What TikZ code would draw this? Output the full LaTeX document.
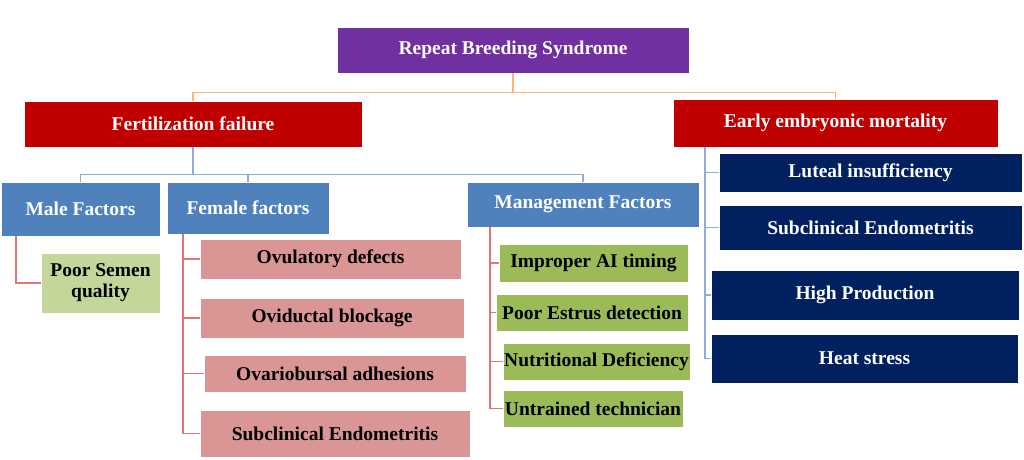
\documentclass[tikz,border=0pt]{standalone}
\usepackage{fontspec}
\setmainfont{Liberation Serif}
\usepackage{tikz}
\usetikzlibrary{positioning,calc}

\definecolor{rbpurple}{HTML}{7030A0}
\definecolor{rbred}{HTML}{C00000}
\definecolor{rbblue}{HTML}{4F81BD}
\definecolor{rbnavy}{HTML}{002060}
\definecolor{rbpink}{HTML}{DA9694}
\definecolor{rblgreen}{HTML}{C4D79B}
\definecolor{rbgreen}{HTML}{9BBB59}
\definecolor{lnorange}{HTML}{FAB57E}
\definecolor{lnblue}{HTML}{8DADD8}
\definecolor{lnred}{HTML}{DC7775}

\begin{document}
\begin{tikzpicture}[x=1pt,y=-1pt,
  box/.style={draw=white,line width=0.8pt,inner sep=0pt,align=center,
    font=\fontsize{19.5}{21}\selectfont\bfseries},
  wbox/.style={box,text=white},
  kbox/.style={box,text=black},
  link/.style={line width=1.4pt}]
\useasboundingbox (0,0) rectangle (1024,459);
% ---- top levels ----
\node[wbox,fill=rbpurple,minimum width=352,minimum height=46] (rbs) at (513,50) {Repeat Breeding Syndrome};
\node[wbox,fill=rbred,minimum width=338,minimum height=46] (fert) at (193,124) {Fertilization failure};
\node[wbox,fill=rbred,minimum width=325,minimum height=48] (eem) at (835.5,123) {Early embryonic mortality};
\draw[link,lnorange] (rbs.south) -- ++(0,19) -| (fert.north);
\draw[link,lnorange] (rbs.south) -- ++(0,19) -| (eem.north);
% ---- fertilization failure branches ----
\node[wbox,fill=rbblue,minimum width=159,minimum height=54] (male) at (80.5,209) {Male Factors};
\node[wbox,fill=rbblue,minimum width=162,minimum height=52] (female) at (248,208) {Female factors};
\node[wbox,fill=rbblue,minimum width=232,minimum height=45] (mgmt) at (583,204.5) {Management Factors};
\draw[link,lnblue] (fert.south) -- ++(0,27) -| (male.north);
\draw[link,lnblue] (fert.south) -- ++(0,27) -| (female.north);
\draw[link,lnblue] (fert.south) -- ++(0,27) -| (mgmt.north);
% ---- male ----
\node[kbox,fill=rblgreen,minimum width=119,minimum height=60] (semen) at (100.5,283) {Poor Semen\\quality};
\coordinate (mbar) at (16,0);
\draw[link,lnred] (male.south -| mbar) |- (semen.west);
% ---- female ----
\node[kbox,fill=rbpink,minimum width=261,minimum height=40] (ovul) at (330.5,259) {Ovulatory defects};
\node[kbox,fill=rbpink,minimum width=264,minimum height=40] (ovid) at (332,318) {Oviductal blockage};
\node[kbox,fill=rbpink,minimum width=262,minimum height=37] (ovar) at (335,373.5) {Ovariobursal adhesions};
\node[kbox,fill=rbpink,minimum width=270,minimum height=47] (subf) at (335,433.5) {Subclinical Endometritis};
\coordinate (fbar) at (183,0);
\foreach \n in {ovul,ovid,ovar,subf}
  \draw[link,lnred] (female.south -| fbar) |- (\n.west);
% ---- management ----
\node[kbox,fill=rbgreen,minimum width=189,minimum height=38] (aitime) at (593.5,263) {Improper AI timing};
\node[kbox,fill=rbgreen,minimum width=192,minimum height=37] (estrus) at (592,312.5) {Poor Estrus detection};
\node[kbox,fill=rbgreen,minimum width=187,minimum height=37] (nutri) at (596.5,361.5) {Nutritional Deficiency};
\node[kbox,fill=rbgreen,minimum width=180,minimum height=37] (tech) at (593,408.5) {Untrained technician};
\coordinate (gbar) at (490,0);
\foreach \n in {aitime,estrus,nutri,tech}
  \draw[link,lnred] (mgmt.south -| gbar) |- (\n.west);
% ---- early embryonic mortality ----
\node[wbox,fill=rbnavy,minimum width=303,minimum height=39] (luteal) at (870.5,172.5) {Luteal insufficiency};
\node[wbox,fill=rbnavy,minimum width=303,minimum height=45] (subr) at (870.5,227.5) {Subclinical Endometritis};
\node[wbox,fill=rbnavy,minimum width=308,minimum height=50] (highp) at (865,295) {High Production};
\node[wbox,fill=rbnavy,minimum width=307,minimum height=49] (heat) at (864.5,358.5) {Heat stress};
\coordinate (ebar) at (705,0);
\foreach \n in {luteal,subr,highp,heat}
  \draw[link,lnblue] (eem.south -| ebar) |- (\n.west);
\end{tikzpicture}
\end{document}
